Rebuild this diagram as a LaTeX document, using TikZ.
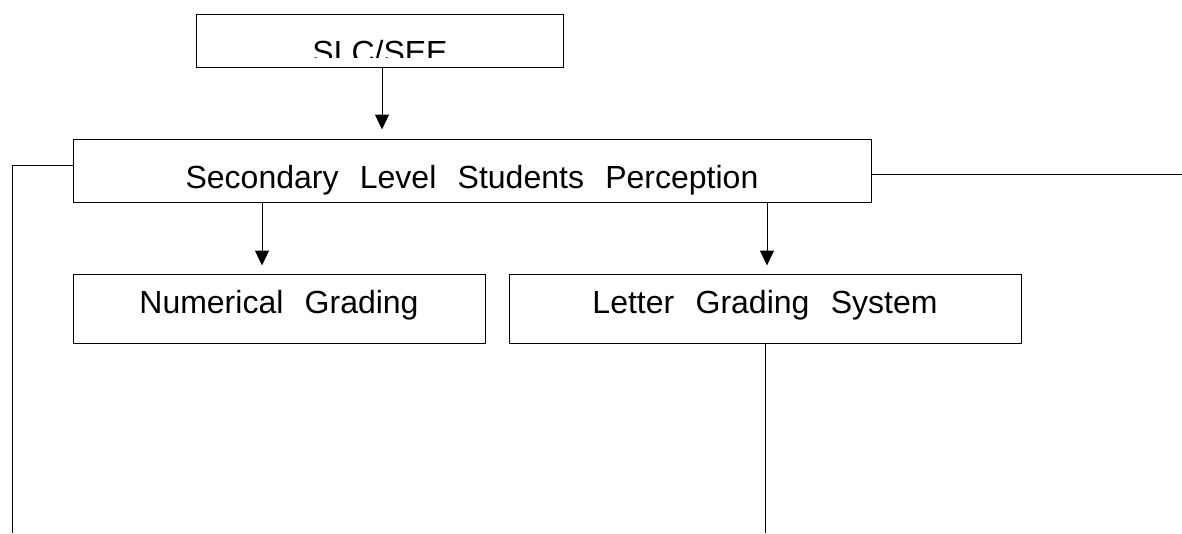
\documentclass[tikz,border=0pt]{standalone}
\usepackage{fontspec}
\setmainfont{Liberation Sans}[WordSpace=2.4]
\usetikzlibrary{arrows.meta}
\tikzset{
  box/.style={draw, line width=1pt, inner sep=0pt},
  lbl/.style={inner sep=0pt, anchor=base, font=\fontsize{32}{38}\selectfont},
  arr/.style={line width=1pt, -{Triangle[width=14pt,length=15pt]}},
  ln/.style={line width=1pt}
}
\begin{document}
\begin{tikzpicture}[x=1pt,y=-1pt]
\useasboundingbox (0,0) rectangle (1182,533);
\node[box, minimum width=367pt, minimum height=53pt] (slc) at (379.5,40.5) {};
\node[box, minimum width=798pt, minimum height=63pt] (sec) at (472,170.5) {};
\node[box, minimum width=412pt, minimum height=69pt] (num) at (279,308.5) {};
\node[box, minimum width=512pt, minimum height=69pt] (let) at (765,308.5) {};
\begin{scope}
\clip (197,15) rectangle (562,57);
\node[lbl] (slct) at (380,63) {SLC/SEE};
\end{scope}
\node[lbl] (sect) at (472,188) {Secondary Level Students Perception};
\node[lbl] (numt) at (279,313) {Numerical Grading};
\node[lbl] (lett) at (765,313) {Letter Grading System};
\coordinate (lb) at (12,533);
\coordinate (rt) at (1182,174);
\coordinate (bt) at (765,533);
\draw[arr, shorten >=9pt] ([xshift=2.5pt]slc.south) -- ([xshift=2.5pt]slc.south |- sec.north);
\draw[arr, shorten >=8pt] ([xshift=-17pt]num.north |- sec.south) -- ([xshift=-17pt]num.north);
\draw[arr, shorten >=8pt] ([xshift=2pt]let.north |- sec.south) -- ([xshift=2pt]let.north);
\draw[ln] ([yshift=5.5pt]sec.west) -| (lb);
\draw[ln] ([yshift=-3.5pt]sec.east) -- (rt);
\draw[ln] (let.south) -- (bt);
\end{tikzpicture}
\end{document}
